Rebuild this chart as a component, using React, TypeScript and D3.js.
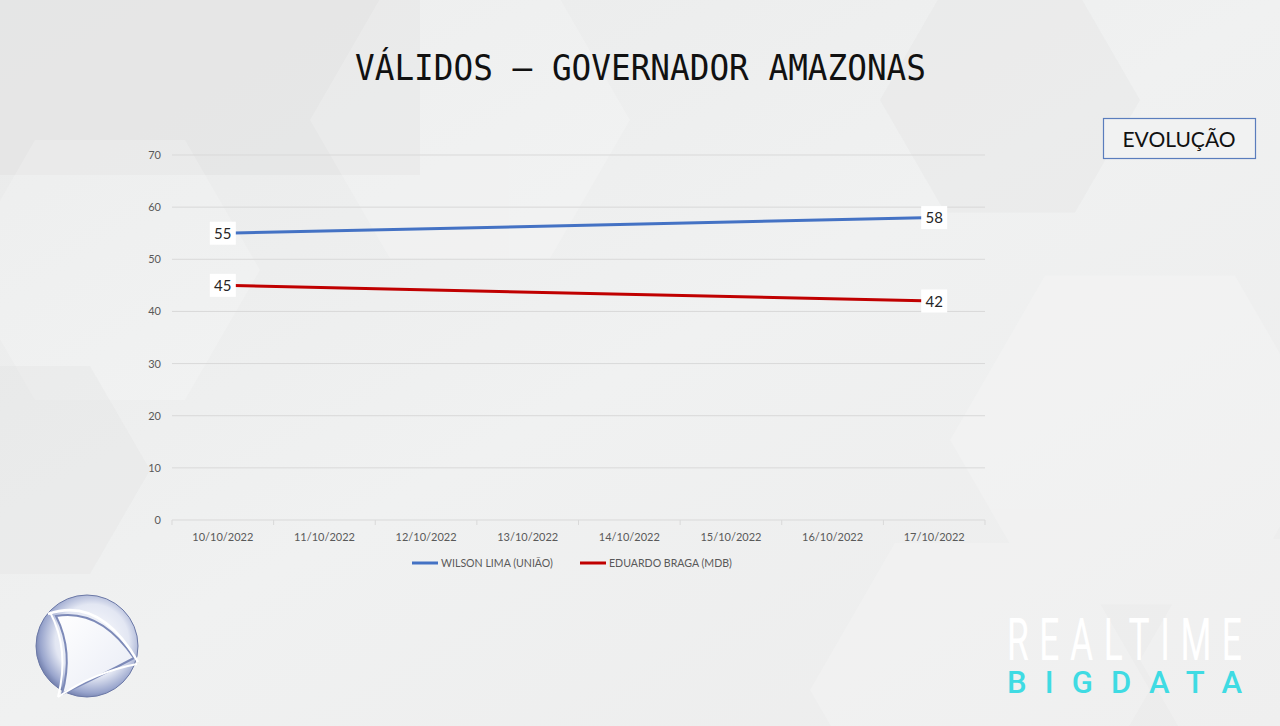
import { useEffect } from "react"
import * as d3 from "d3"

// chart values
const categories = [
  "10/10/2022",
  "11/10/2022",
  "12/10/2022",
  "13/10/2022",
  "14/10/2022",
  "15/10/2022",
  "16/10/2022",
  "17/10/2022",
]
// only the first and last surveys carry a value; the line joins them
const wilsonLima: (number | null)[] = [55, null, null, null, null, null, null, 58]
const eduardoBraga: (number | null)[] = [45, null, null, null, null, null, null, 42]
const yTicks = [0, 10, 20, 30, 40, 50, 60, 70]

const seriesNames = ["WILSON LIMA (UNIÃO)", "EDUARDO BRAGA (MDB)"]
const seriesColors = ["#4472C4", "#C00000"]

const W = 1280
const H = 726
const margin = { left: 172, right: 985, top: 155, bottom: 520 }
const chartFont = "Lato, 'Open Sans', sans-serif"

export default function App() {
  useEffect(() => {
    document.body.style.margin = "0"
  }, [])

  const x = d3.scaleBand<string>().domain(categories).range([margin.left, margin.right])
  const y = d3.scaleLinear().domain([0, 70]).range([margin.bottom, margin.top])
  const cx = (c: string) => (x(c) ?? 0) + x.bandwidth() / 2

  const series = [wilsonLima, eduardoBraga].map((vals, i) => ({
    name: seriesNames[i],
    color: seriesColors[i],
    points: vals
      .map((v, j) => ({ cat: categories[j], v }))
      .filter((p) => p.v !== null) as { cat: string; v: number }[],
  }))

  const line = d3
    .line<{ cat: string; v: number }>()
    .x((d) => cx(d.cat))
    .y((d) => y(d.v))

  // faint hexagon texture in the backdrop
  const hex = (hx: number, hy: number, r: number) =>
    d3
      .range(6)
      .map((k) => {
        const a = (Math.PI / 3) * k
        return [hx + r * Math.cos(a), hy + r * Math.sin(a)].join(",")
      })
      .join(" ")

  const condense = 0.6

  return (
    <svg width={W} height={H} style={{ position: "absolute", left: 0, top: 0, display: "block" }}>
      <defs>
        <linearGradient id="bg" x1="0" y1="0" x2="1" y2="1">
          <stop offset="0" stopColor="#e9eaea" />
          <stop offset="0.5" stopColor="#f0f1f1" />
          <stop offset="1" stopColor="#ececec" />
        </linearGradient>
        <radialGradient id="ball" cx="0.55" cy="0.45" r="0.6">
          <stop offset="0" stopColor="#ffffff" />
          <stop offset="0.6" stopColor="#e3e7f3" />
          <stop offset="0.85" stopColor="#98a4cc" />
          <stop offset="1" stopColor="#5e6c9c" />
        </radialGradient>
        <linearGradient id="tri" x1="0" y1="0" x2="1" y2="1">
          <stop offset="0" stopColor="#ffffff" />
          <stop offset="1" stopColor="#e8ebf5" />
        </linearGradient>
      </defs>

      <rect width={W} height={H} fill="url(#bg)" />
      <rect x={0} y={0} width={420} height={175} fill="#e2e3e3" opacity={0.6} />
      <g fill="#ffffff" opacity={0.18}>
        <polygon points={hex(110, 270, 150)} />
        <polygon points={hex(470, 120, 160)} />
        <polygon points={hex(1140, 440, 190)} />
        <polygon points={hex(980, 690, 170)} />
        <polygon points={hex(1280, 660, 140)} />
      </g>
      <g fill="#d8d9d9" opacity={0.18}>
        <polygon points={hex(1010, 100, 130)} />
        <polygon points={hex(30, 470, 120)} />
      </g>

      {/* title */}
      <text
        x={355}
        y={80}
        fontFamily="'DejaVu Sans Mono', monospace"
        fontSize={36}
        fill="#111"
        textLength={571}
        lengthAdjust="spacingAndGlyphs"
      >
        VÁLIDOS – GOVERNADOR AMAZONAS
      </text>

      {/* EVOLUÇÃO box */}
      <rect x={1103.5} y={118.5} width={152} height={40} fill="#f1f2f2" stroke="#5a7dbd" strokeWidth={1.2} />
      <text x={1179} y={147} textAnchor="middle" fontFamily={chartFont} fontSize={21} fill="#111">
        EVOLUÇÃO
      </text>

      {/* grid + y labels */}
      <g fontFamily={chartFont} fontSize={11} fill="#595959">
        {yTicks.map((t) => (
          <g key={t}>
            <line x1={margin.left} x2={margin.right} y1={y(t)} y2={y(t)} stroke="#d9d9d9" strokeWidth={1} />
            <text x={161} y={y(t) + 4} textAnchor="end">
              {t}
            </text>
          </g>
        ))}
      </g>

      {/* x axis ticks and labels */}
      <g fontFamily={chartFont} fontSize={11} fill="#595959">
        {categories.map((c) => (
          <g key={c}>
            <line x1={x(c) ?? 0} x2={x(c) ?? 0} y1={margin.bottom} y2={margin.bottom + 5} stroke="#d9d9d9" />
            <text x={cx(c)} y={541} textAnchor="middle">
              {c}
            </text>
          </g>
        ))}
        <line x1={margin.right} x2={margin.right} y1={margin.bottom} y2={margin.bottom + 5} stroke="#d9d9d9" />
      </g>

      {/* lines */}
      {series.map((s) => (
        <path key={s.name} d={line(s.points) ?? ""} fill="none" stroke={s.color} strokeWidth={3} />
      ))}

      {/* data labels centred on the points */}
      {series.map((s) =>
        s.points.map((p) => (
          <g key={s.name + p.cat}>
            <rect x={cx(p.cat) - 13} y={y(p.v) - 11.5} width={26} height={23} fill="#ffffff" />
            <text
              x={cx(p.cat)}
              y={y(p.v) + 5.5}
              textAnchor="middle"
              fontFamily={chartFont}
              fontSize={15}
              fill="#262626"
            >
              {p.v}
            </text>
          </g>
        ))
      )}

      {/* legend */}
      <g fontFamily={chartFont} fontSize={10.6} fill="#595959">
        {series.map((s, i) => {
          const lx = i === 0 ? 412 : 580
          return (
            <g key={s.name}>
              <line x1={lx} x2={lx + 26} y1={563} y2={563} stroke={s.color} strokeWidth={3} />
              <text x={lx + 29} y={567}>
                {s.name}
              </text>
            </g>
          )
        })}
      </g>

      {/* logo bottom left */}
      <g>
        <circle cx={87} cy={646} r={51} fill="url(#ball)" stroke="#6b78a6" strokeWidth={1} />
        <path
          d="M 56 616 Q 100 608 134 658 Q 100 676 62 694 Q 74 652 56 616 Z"
          fill="url(#tri)"
          stroke="#7d8ab8"
          strokeWidth={2}
        />
        <path d="M 48 614 Q 100 596 138 662" fill="none" stroke="#ffffff" strokeWidth={2.5} />
        <path d="M 58 697 Q 95 672 137 664" fill="none" stroke="#ffffff" strokeWidth={2} />
        <path d="M 50 612 Q 70 650 58 697" fill="none" stroke="#ffffff" strokeWidth={2} />
      </g>

      {/* REALTIME BIGDATA mark */}
      <g transform={`translate(1007,660) scale(${condense},1)`}>
        <text
          x={0}
          y={0}
          fontFamily="Roboto, sans-serif"
          fontWeight={400}
          fontSize={59}
          fill="#ffffff"
          textLength={235 / condense}
          lengthAdjust="spacing"
        >
          REALTIME
        </text>
      </g>
      <text
        x={1007}
        y={693}
        fontFamily="Roboto, sans-serif"
        fontWeight={500}
        fontSize={31}
        fill="#3fdbe3"
        textLength={235}
        lengthAdjust="spacing"
      >
        BIGDATA
      </text>
    </svg>
  )
}
